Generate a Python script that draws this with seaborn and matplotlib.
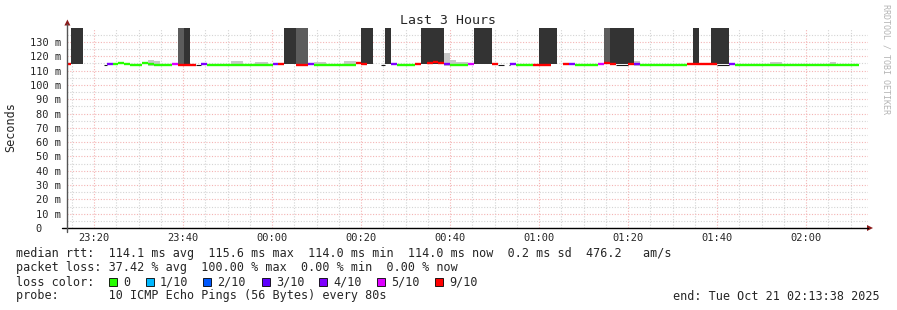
import numpy as np
import pandas as pd
import matplotlib
matplotlib.use("Agg")
import matplotlib.pyplot as plt
import seaborn as sns
from matplotlib.patches import Rectangle, Polygon
from matplotlib.lines import Line2D

# ---------------- data (time = minutes after 23:00, Oct 20) ----------------
x_ticks = [20, 40, 60, 80, 100, 120, 140, 160, 180]
x_tick_labels = ["23:20", "23:40", "00:00", "00:20", "00:40", "01:00", "01:20", "01:40", "02:00"]
y_ticks = [0, 10, 20, 30, 40, 50, 60, 70, 80, 90, 100, 110, 120, 130]
y_tick_labels = ["0   ", "10 m", "20 m", "30 m", "40 m", "50 m", "60 m", "70 m", "80 m",
                 "90 m", "100 m", "110 m", "120 m", "130 m"]
t_start, t_end = 14.02, 194.02

# median rtt line segments
line_start = [13.63, 22.92, 24.27, 25.39, 26.74, 28.09, 30.79, 32.13, 33.48, 37.53, 38.88,
              44.04, 45.39, 60.22, 61.35, 65.39, 68.09, 69.44, 78.88, 80.00, 86.74, 88.09,
              92.13, 94.83, 96.18, 97.30, 98.65, 100.00, 104.04, 109.44, 113.48, 114.83,
              118.65, 125.39, 126.74, 128.09, 133.26, 134.61, 135.96, 140.00, 141.35,
              142.70, 153.26, 162.70, 164.04]
line_end = [14.83, 24.27, 25.39, 26.74, 28.09, 30.79, 32.13, 33.48, 37.53, 38.88, 42.92,
            45.39, 60.22, 61.35, 62.70, 68.09, 69.44, 78.88, 80.00, 81.35, 88.09, 92.13,
            93.48, 96.18, 97.30, 98.65, 100.00, 104.04, 105.39, 110.79, 114.83, 118.65,
            122.70, 126.74, 128.09, 133.26, 134.61, 135.96, 137.30, 141.35, 142.70,
            153.26, 160.00, 164.04, 191.91]
line_ms = [114.3, 114.3, 114.3, 115.0, 114.5, 114.0, 115.0, 114.6, 114.0, 114.3, 114.2,
           114.3, 114.2, 114.3, 114.3, 114.2, 114.3, 114.2, 115.0, 114.3, 114.3, 114.2,
           114.3, 115.5, 116.3, 115.5, 114.3, 114.2, 114.3, 114.3, 114.3, 114.2,
           114.2, 114.3, 114.3, 114.2, 114.3, 115.0, 114.3, 114.3, 114.3,
           114.2, 114.3, 114.3, 114.2]
line_loss = [9, 4, 0, 0, 0, 0, 0, 0, 0, 5, 9,
             4, 0, 4, 9, 9, 4, 0, 9, 9, 4, 0,
             9, 9, 9, 9, 4, 0, 5, 9, 4, 0,
             9, 9, 4, 0, 5, 9, 9, 9, 4,
             0, 9, 4, 0]

# thin dark line pieces
thin_start = [22.25, 42.92, 84.49, 110.79, 113.26, 137.30, 160.00]
thin_end = [22.92, 44.04, 85.39, 112.13, 113.48, 140.00, 162.70]
thin_ms = 114.1

# dark (loss) bars
dark_start = [14.83, 38.88, 40.22, 62.70, 65.39, 80.00, 85.39, 93.48, 105.39, 120.00,
              134.61, 135.96, 154.61, 158.65]
dark_end = [17.53, 40.22, 41.57, 65.39, 68.09, 82.70, 86.74, 98.65, 109.44, 124.04,
            135.96, 141.35, 155.96, 162.70]
dark_shade = ["d", "m", "d", "d", "m", "d", "d", "d", "d", "d", "m", "d", "d", "d"]
dark_bottom = 114.4

# smoke
smoke_start = [32.13, 33.48, 50.79, 56.18, 69.44, 76.18, 98.65, 100.00, 101.35, 141.35,
               171.91, 185.39]
smoke_end = [33.48, 34.83, 53.48, 59.10, 72.13, 78.88, 100.00, 101.35, 104.04, 142.70,
             174.61, 186.74]
smoke_top = [117.4, 116.7, 116.7, 116.0, 116.0, 116.7, 122.4, 117.5, 116.0, 116.7,
             116.0, 116.0]
smoke_bottom = 113.5

loss_levels = [0, 1, 2, 3, 4, 5, 9]
loss_labels = ["0", "1/10", "2/10", "3/10", "4/10", "5/10", "9/10"]
loss_colors = ["#26ff00", "#00b8ff", "#0059ff", "#5e00ff", "#7e00ff", "#dd00ff", "#ff0000"]

legend_rows = [
    "median rtt:  114.1 ms avg  115.6 ms max  114.0 ms min  114.0 ms now  0.2 ms sd  476.2   am/s",
    "packet loss: 37.42 % avg  100.00 % max  0.00 % min  0.00 % now",
]
probe_text = "probe:       10 ICMP Echo Pings (56 Bytes) every 80s"
end_text = "end: Tue Oct 21 02:13:38 2025"

# ---------------- figure ----------------
sns.set_style("white")
plt.rcParams["font.family"] = ["DejaVu Sans Mono", "DejaVu Sans"]

W, H = 897, 310
fig = plt.figure(figsize=(W / 100, H / 100), dpi=100)
x0_px, x1_px = 67.4, 868.4
y0_px, y1_px = 228.0, 27.7
ax = fig.add_axes([x0_px / W, 1 - y0_px / H, (x1_px - x0_px) / W, (y0_px - y1_px) / H])
ax.set_xlim(t_start, t_end)
ax.set_ylim(0, 140)

def fx(px):
    return px / W

def fy(py):
    return 1 - py / H

# grid
ax.set_xticks(x_ticks)
ax.set_xticks(np.arange(15, 195, 5), minor=True)
ax.set_yticks(y_ticks)
ax.set_yticks(np.arange(5, 140, 10), minor=True)
ax.grid(which="major", color="#f4b4b4", linestyle=(0, (1, 1.5)), linewidth=0.8)
ax.grid(which="minor", color="#d4d4d4", linestyle=(0, (1, 1.5)), linewidth=0.8)
ax.set_axisbelow(True)
ax.set_xticklabels(x_tick_labels)
ax.set_yticklabels(y_tick_labels)
ax.tick_params(which="both", length=0, labelsize=7.5)
ax.tick_params(axis="x", pad=3.5)
ax.tick_params(axis="y", pad=4.5)
for s in ax.spines.values():
    s.set_visible(False)

# dark loss bars
shade_col = {"d": "#333333", "m": "#5c5c5c"}
ds = np.array(dark_start); de = np.array(dark_end)
ax.bar(ds, 140 - dark_bottom, width=de - ds, bottom=dark_bottom, align="edge",
       color=[shade_col[s] for s in dark_shade], linewidth=0, zorder=2)

# smoke
ss = np.array(smoke_start); se = np.array(smoke_end)
ax.bar(ss, np.array(smoke_top) - smoke_bottom, width=se - ss, bottom=smoke_bottom,
       align="edge", color="#c8c8c8", linewidth=0, zorder=2)

# thin dark lines
for a, b in zip(thin_start, thin_end):
    ax.plot([a, b], [thin_ms, thin_ms], color="#1a1a1a", lw=0.8, zorder=3,
            solid_capstyle="butt")

# median line by loss colour via seaborn
rows = []
for i, (a, b, m, l) in enumerate(zip(line_start, line_end, line_ms, line_loss)):
    rows.append({"t": a, "ms": m, "loss": l, "seg": i})
    rows.append({"t": b, "ms": m, "loss": l, "seg": i})
df = pd.DataFrame(rows)
palette = dict(zip(loss_levels, loss_colors))
sns.lineplot(data=df, x="t", y="ms", hue="loss", units="seg", estimator=None,
             palette=palette, linewidth=1.7, legend=False, ax=ax, zorder=4,
             solid_capstyle="butt")
ax.set_xlim(t_start, t_end)
ax.set_xlabel("")
ax.set_ylabel("")

# axis lines & arrows
fig.add_artist(Line2D([fx(62), fx(868)], [fy(228), fy(228)], color="#000000", lw=1.0))
fig.add_artist(Line2D([fx(x0_px), fx(x0_px)], [fy(232), fy(24)], color="#555555", lw=1.0))
fig.add_artist(Polygon([[fx(867), fy(225)], [fx(867), fy(231)], [fx(873), fy(228)]],
                       closed=True, color="#8b1a1a", lw=0))
fig.add_artist(Polygon([[fx(64.4), fy(25.5)], [fx(70.4), fy(25.5)], [fx(67.4), fy(19.5)]],
                       closed=True, color="#8b1a1a", lw=0))

# texts
fig.text(fx(448), fy(20), "Last 3 Hours", ha="center", va="center", fontsize=9.5)
fig.text(fx(11), fy(127), "Seconds", rotation=90, ha="center", va="center", fontsize=8.5)
fig.text(fx(886), fy(4), "RRDTOOL / TOBI OETIKER", rotation=-90, ha="center", va="top",
         fontsize=6, color="#b4b4b4")

fs = 8.5
fig.text(fx(16), fy(254), legend_rows[0], ha="left", va="center", fontsize=fs)
fig.text(fx(16), fy(268), legend_rows[1], ha="left", va="center", fontsize=fs)
fig.text(fx(16), fy(282), "loss color:", ha="left", va="center", fontsize=fs)
box_x = [109, 146, 203, 262, 319, 377, 435]
for bx, col, lab in zip(box_x, loss_colors, loss_labels):
    fig.add_artist(Rectangle((fx(bx), fy(286)), 8 / W, 8 / H, facecolor=col,
                             edgecolor="#000000", lw=0.6))
    fig.text(fx(bx + 14), fy(282), lab, ha="left", va="center", fontsize=fs)
fig.text(fx(16), fy(296), probe_text, ha="left", va="center", fontsize=fs)
fig.text(fx(880), fy(296), end_text, ha="right", va="center", fontsize=fs)

fig.savefig("out.png", dpi=100)
